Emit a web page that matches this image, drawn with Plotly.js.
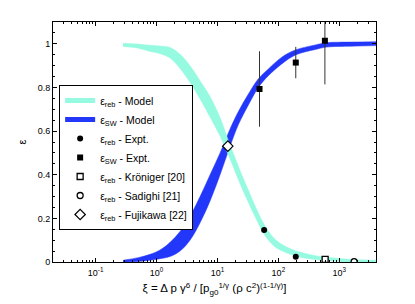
<!DOCTYPE html>
<html><head><meta charset="utf-8">
<script src="https://cdn.plot.ly/plotly-3.0.1.min.js"></script>
<style>body{margin:0;background:#fff;} #chart{width:415px;height:304px;}</style>
</head><body><div id="chart"></div>
<script>
// ε_reb model band (lower / upper edges)
const rebXi   = [0.282, 0.501, 0.783, 1.143, 1.667, 2.432, 3.548, 5.188, 7.568, 11.04, 15.14, 19.45, 25.06, 32.21, 41.5, 58.3, 82.8, 113.8, 190.5, 407, 758.6, 1820, 4467];
const rebLow  = [0.988, 0.980, 0.965, 0.955, 0.935, 0.887, 0.823, 0.747, 0.664, 0.577, 0.490, 0.415, 0.340, 0.273, 0.207, 0.127, 0.076, 0.051, 0.028, 0.011, 0.005, 0.000, 0.000];
const rebHigh = [1.003, 0.999, 0.993, 0.990, 0.983, 0.952, 0.900, 0.831, 0.758, 0.662, 0.555, 0.478, 0.400, 0.329, 0.257, 0.173, 0.112, 0.081, 0.052, 0.029, 0.019, 0.011, 0.008];
// ε_SW model band (lower / upper edges)
const swXi   = [0.282, 0.501, 0.783, 1.143, 1.667, 2.432, 3.548, 5.188, 7.568, 11.04, 16.11, 22.08, 32.21, 46.99, 68.5, 113.8, 190.5, 405.5, 616.6, 1585, 4467];
const swLow  = [0.000, 0.002, 0.008, 0.015, 0.025, 0.050, 0.100, 0.180, 0.280, 0.400, 0.530, 0.630, 0.720, 0.800, 0.854, 0.908, 0.949, 0.974, 0.985, 0.989, 0.992];
const swHigh = [0.008, 0.020, 0.035, 0.055, 0.090, 0.140, 0.210, 0.300, 0.400, 0.500, 0.610, 0.690, 0.770, 0.840, 0.885, 0.939, 0.972, 0.995, 1.005, 1.008, 1.010];
// experiments
const rebExptXi  = [58.3, 193];
const rebExptEps = [0.147, 0.024];
const rebExptErr = [0, 0.01];
const swExptXi  = [49, 193, 580];
const swExptEps = [0.793, 0.914, 1.014];
const swExptErr = [0.173, 0.072, 0.20];
const kronigerXi = [585],  kronigerEps = [0.012];
const sadighiXi  = [1750], sadighiEps  = [0.002];
const fujikawaXi = [14.8], fujikawaEps = [0.531];
// ticks
const xTickVals = [0.1, 1, 10, 100, 1000];
const xTickText = ['10<sup>-1</sup>', '10<sup>0</sup>', '10<sup>1</sup>', '10<sup>2</sup>', '10<sup>3</sup>'];
const yTickVals = [0, 0.2, 0.4, 0.6, 0.8, 1];
const yTickText = ['0', '0.2', '0.4', '0.6', '0.8', '1'];

const cReb = 'rgb(150,250,225)';
const cSW = 'rgb(35,55,250)';

const minorX = [];
for (let d = -2; d <= 3; d++) for (let k = 2; k <= 9; k++) minorX.push(k * Math.pow(10, d));

function band(x, lo, hi, c) {
  return [
    {x: x, y: lo, mode: 'lines', line: {color: c, width: 0.5, shape: 'spline'}, showlegend: false, hoverinfo: 'skip'},
    {x: x, y: hi, mode: 'lines', line: {color: c, width: 0.5, shape: 'spline'}, fill: 'tonexty', fillcolor: c, showlegend: false, hoverinfo: 'skip'}
  ];
}

const traces = [].concat(
  band(swXi, swLow, swHigh, cSW),
  band(rebXi, rebLow, rebHigh, cReb),
  [
    {x: [null], y: [null], mode: 'lines', line: {color: cReb, width: 5}, name: 'ε<sub>reb</sub> - Model'},
    {x: [null], y: [null], mode: 'lines', line: {color: cSW, width: 5}, name: 'ε<sub>SW</sub> - Model'},
    {x: rebExptXi, y: rebExptEps, mode: 'markers', name: 'ε<sub>reb</sub> - Expt.',
     marker: {symbol: 'circle', size: 6, color: '#000'},
     error_y: {type: 'data', array: rebExptErr, visible: true, width: 0, thickness: 1, color: '#333'}},
    {x: swExptXi, y: swExptEps, mode: 'markers', name: 'ε<sub>SW</sub> - Expt.',
     marker: {symbol: 'square', size: 6, color: '#000'},
     error_y: {type: 'data', array: swExptErr, visible: true, width: 0, thickness: 1, color: '#333'}},
    {x: kronigerXi, y: kronigerEps, mode: 'markers', name: 'ε<sub>reb</sub> - Kröniger [20]',
     marker: {symbol: 'square', size: 6, color: '#fff', line: {color: '#000', width: 1.3}}},
    {x: sadighiXi, y: sadighiEps, mode: 'markers', name: 'ε<sub>reb</sub> - Sadighi [21]',
     marker: {symbol: 'circle', size: 6, color: '#fff', line: {color: '#000', width: 1.3}}},
    {x: fujikawaXi, y: fujikawaEps, mode: 'markers', name: 'ε<sub>reb</sub> - Fujikawa [22]',
     marker: {symbol: 'diamond', size: 8, color: '#fff', line: {color: '#000', width: 1.2}}}
  ]
);

const layout = {
  width: 415, height: 304,
  margin: {l: 53, r: 39, t: 22, b: 42},
  paper_bgcolor: '#fff', plot_bgcolor: '#fff',
  font: {family: 'Liberation Sans, Arial, sans-serif', color: '#000', size: 9},
  showlegend: true,
  legend: {x: 0.019, y: 0.7375, xanchor: 'left', yanchor: 'top', bgcolor: '#fff', traceorder: 'normal',
           bordercolor: '#000', borderwidth: 1, font: {size: 10.5}, itemwidth: 30},
  xaxis: {
    type: 'log', range: [Math.log10(0.02), Math.log10(4000)],
    tickmode: 'array', tickvals: xTickVals, ticktext: xTickText, ticklabelstandoff: 2,
    ticks: 'inside', ticklen: 4, tickcolor: '#000', showline: true, linecolor: '#000', linewidth: 1,
    mirror: 'ticks', showgrid: false, zeroline: false,
    minor: {tickmode: 'array', tickvals: minorX, ticks: 'inside', ticklen: 2, tickcolor: '#000', showgrid: false},
    title: {text: 'ξ = Δ p γ<sup>6</sup> / [p<sub>g0</sub><sup>1/γ</sup> (ρ c<sup>2</sup>)<sup>(1-1/γ)</sup>]', font: {size: 11.5}, standoff: 7}
  },
  yaxis: {
    range: [0, 1.1], tickmode: 'array', tickvals: yTickVals, ticktext: yTickText,
    ticks: 'inside', ticklen: 4, tickcolor: '#000', showline: true, linecolor: '#000', linewidth: 1,
    mirror: 'ticks', showgrid: false, zeroline: false,
    minor: {dtick: 0.05, ticks: 'inside', ticklen: 2, tickcolor: '#000', showgrid: false},
    title: {text: 'ε', font: {size: 11}, standoff: 8}
  }
};

Plotly.newPlot('chart', traces, layout, {displayModeBar: false, staticPlot: true});
</script>
</body></html>
